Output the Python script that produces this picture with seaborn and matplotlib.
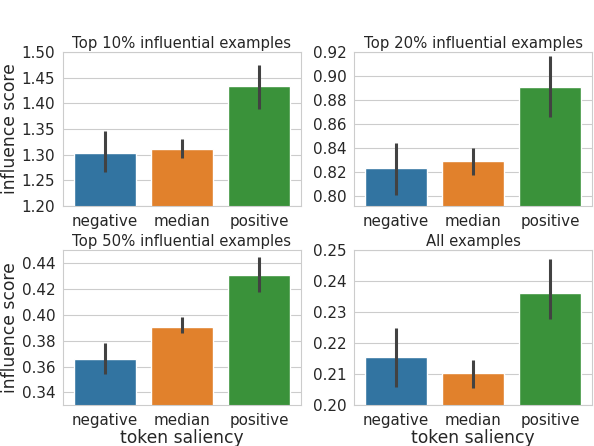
import matplotlib
matplotlib.use('Agg')
import matplotlib.pyplot as plt
import seaborn as sns
import pandas as pd

saliency = ['negative', 'median', 'positive']

titles = ['Top 10% influential examples', 'Top 20% influential examples',
          'Top 50% influential examples', 'All examples']

# bar heights and error bar ends
top10 = [1.304, 1.311, 1.433]
top10_lo = [1.267, 1.294, 1.389]
top10_hi = [1.346, 1.330, 1.475]

top20 = [0.823, 0.829, 0.891]
top20_lo = [0.801, 0.817, 0.866]
top20_hi = [0.844, 0.840, 0.917]

top50 = [0.366, 0.391, 0.431]
top50_lo = [0.354, 0.386, 0.418]
top50_hi = [0.378, 0.398, 0.445]

all_ex = [0.2155, 0.2103, 0.2361]
all_ex_lo = [0.2058, 0.2054, 0.2277]
all_ex_hi = [0.2247, 0.2144, 0.2470]

panels = [(top10, top10_lo, top10_hi), (top20, top20_lo, top20_hi),
          (top50, top50_lo, top50_hi), (all_ex, all_ex_lo, all_ex_hi)]
ylims = [(1.20, 1.50), (0.7914, 0.92), (0.3302, 0.4503), (0.20, 0.25)]
yticks = [[1.20, 1.25, 1.30, 1.35, 1.40, 1.45, 1.50],
          [0.80, 0.82, 0.84, 0.86, 0.88, 0.90, 0.92],
          [0.34, 0.36, 0.38, 0.40, 0.42, 0.44],
          [0.20, 0.21, 0.22, 0.23, 0.24, 0.25]]

sns.set_style('whitegrid')
plt.rcParams['font.family'] = ['DejaVu Sans']

fig = plt.figure(figsize=(5.94, 4.46), dpi=100)
W, H = 594, 446
boxes = [(63, 52, 301, 206), (354, 52, 592, 206),
         (63, 250, 301, 405), (354, 250, 592, 405)]

for i, (vals, lo, hi) in enumerate(panels):
    x0, y0, x1, y1 = boxes[i]
    ax = fig.add_axes([x0 / W, 1 - y1 / H, (x1 - x0) / W, (y1 - y0) / H])
    df = pd.DataFrame({'token saliency': saliency, 'influence score': vals})
    sns.barplot(data=df, x='token saliency', y='influence score',
                hue='token saliency', legend=False, ax=ax, errorbar=None)
    ax.vlines(range(len(saliency)), lo, hi, color='.26', lw=2.2, zorder=3)
    ax.set_ylim(*ylims[i])
    ax.set_yticks(yticks[i])
    ax.set_yticklabels(['%.2f' % t for t in yticks[i]])
    ax.tick_params(axis='both', labelsize=10.9, pad=2, colors='.15')
    ax.set_title(titles[i], fontsize=10.7, color='.15', pad=3)
    if i % 2 == 0:
        ax.set_ylabel('influence score', fontsize=12.3, color='.15', labelpad=2)
    else:
        ax.set_ylabel('')
    if i >= 2:
        ax.set_xlabel('token saliency', fontsize=12.3, color='.15', labelpad=1)
    else:
        ax.set_xlabel('')

fig.savefig('out.png', dpi=100)
